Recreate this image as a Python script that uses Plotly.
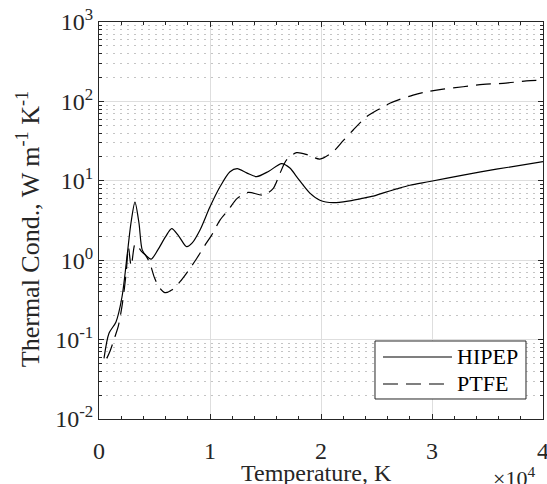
import plotly.graph_objects as go

# ---- data ----
hipep_T = [450, 900, 1530, 2070, 2520, 2880, 3240, 3600, 3900, 4300, 4700, 5300, 6000,
           6550, 7200, 7900, 8400, 9100, 10000, 10900, 11800, 12450, 13300, 14200, 15300,
           16450, 17200, 17800, 19000, 19900, 21100, 22600, 23600, 24700, 25700, 26800,
           28000, 29800, 32800, 35800, 40000]
hipep_k = [0.058, 0.12, 0.167, 0.344, 1.1, 2.94, 5.4, 2.94, 1.34, 1.12, 1.03, 1.35, 1.98,
           2.5, 2.0, 1.48, 1.65, 2.4, 4.7, 8.4, 13.0, 14.2, 12.6, 11.3, 13.2,
           16.5, 14.5, 11.3, 7.0, 5.7, 5.3, 5.6, 5.95, 6.4, 7.1, 7.9,
           8.8, 9.8, 11.8, 14.0, 17.4]

ptfe_T = [700, 1000, 1440, 1740, 2100, 2450, 2650, 2900, 3250, 3500, 3800, 4200, 4600,
          5000, 5400, 5950, 6550, 7300, 8200, 8800, 9550, 10150, 10900, 11650, 12450,
          13450, 14800, 15700, 16300, 16900, 17800, 18850, 19900, 21100, 22000, 22900,
          24100, 25300, 26200, 27100, 28300, 29500, 31000, 32800, 34600, 36400, 38500, 40000]
ptfe_k = [0.058, 0.072, 0.109, 0.148, 0.28, 0.7, 1.45, 0.85, 1.6, 1.5, 1.3, 1.15, 0.9,
          0.6, 0.46, 0.39, 0.42, 0.536, 0.79, 1.05, 1.55, 2.07, 3.2, 4.29, 6.0,
          7.16, 6.6, 8.05, 12.4, 18.3, 22.6, 21.1, 18.8, 23.3, 32.0, 43.6,
          64.0, 81.0, 94.6, 106.0, 120.0, 132.0, 143.0, 153.0, 164.0, 169.0, 181.0, 186.0]

series_names = ["HIPEP", "PTFE"]

x_tickvals = [0, 10000, 20000, 30000, 40000]
x_ticktext = ["0", "1", "2", "3", "4"]
y_tickvals = [0.01, 0.1, 1, 10, 100, 1000]
y_ticktext = ["10<sup>-2</sup>", "10<sup>-1</sup>", "10<sup>0</sup>",
              "10<sup>1</sup>", "10<sup>2</sup>", "10<sup>3</sup>"]

FONT = "Liberation Serif, Times New Roman, serif"
AX = "#262626"
DASH = "15px,8px"

fig = go.Figure()
fig.add_trace(go.Scatter(x=hipep_T, y=hipep_k, mode="lines", name=series_names[0],
                         showlegend=False,
                         line=dict(color="black", width=1.2, shape="spline", smoothing=0.8)))
fig.add_trace(go.Scatter(x=ptfe_T, y=ptfe_k, mode="lines", name=series_names[1],
                         showlegend=False,
                         line=dict(color="black", width=1.2, dash=DASH,
                                   shape="spline", smoothing=0.8)))

y_minor = [m * 10.0 ** e for e in range(-2, 3) for m in range(2, 10)]

fig.update_layout(
    width=547, height=484,
    margin=dict(l=99, r=4, t=22, b=65),
    paper_bgcolor="white", plot_bgcolor="white",
    font=dict(family=FONT, size=24, color=AX),
    showlegend=False,
)
fig.update_xaxes(
    range=[0, 40000], tickmode="array", tickvals=x_tickvals, ticktext=x_ticktext,
    ticks="inside", ticklen=5, tickcolor=AX, showline=True, linecolor=AX, linewidth=1,
    mirror="allticks", showgrid=True, gridcolor="#dedede", gridwidth=1, zeroline=False,
    ticklabelstandoff=10, ticklabeloverflow="allow", automargin=False,
    minor=dict(tickmode="linear", tick0=0, dtick=2000, ticks="inside", ticklen=3,
               tickcolor=AX, showgrid=False),
    tickfont=dict(family=FONT, size=24, color=AX),
)
fig.update_yaxes(
    type="log", range=[-2, 3], tickmode="array", tickvals=y_tickvals, ticktext=y_ticktext,
    ticks="inside", ticklen=5, tickcolor=AX, showline=True, linecolor=AX, linewidth=1,
    mirror="allticks", showgrid=True, gridcolor="#dedede", gridwidth=1, zeroline=False,
    ticklabeloverflow="allow", automargin=False,
    minor=dict(tickmode="array", tickvals=y_minor, ticks="inside", ticklen=3,
               tickcolor=AX, showgrid=True, gridcolor="#c4c4c4", griddash="2px,5px"),
    tickfont=dict(family=FONT, size=24, color=AX),
)

# legend box (paper coordinates)
lx0, lx1, ly0, ly1 = 0.6216, 0.9617, 0.0504, 0.1965
fig.add_shape(type="rect", xref="paper", yref="paper", x0=lx0, x1=lx1, y0=ly0, y1=ly1,
              line=dict(color=AX, width=1), fillcolor="white", layer="above")
row_y = [0.1562, 0.0882]
dashes = ["solid", DASH]
for name, yy, dsh in zip(series_names, row_y, dashes):
    fig.add_shape(type="line", xref="paper", yref="paper", x0=0.6396, x1=0.7950,
                  y0=yy, y1=yy, line=dict(color="black", width=1.2, dash=dsh),
                  layer="above")
    fig.add_annotation(text=name, xref="paper", yref="paper", x=0.8018, y=yy,
                       xanchor="left", yanchor="middle", showarrow=False,
                       font=dict(family=FONT, size=22, color="black"))

fig.add_annotation(text="Thermal Cond., W m<sup>-1</sup> K<sup>-1</sup>",
                   xref="paper", yref="paper", x=-0.16, y=0.478, textangle=-90,
                   xanchor="center", yanchor="middle", showarrow=False,
                   font=dict(family=FONT, size=26, color=AX))
fig.add_annotation(text="Temperature, K", xref="paper", yref="paper",
                   x=0.489, y=-0.135, xanchor="center", yanchor="middle",
                   showarrow=False, font=dict(family=FONT, size=24, color=AX))
fig.add_annotation(text="\u00d710<sup>4</sup>", xref="paper", yref="paper",
                   x=0.935, y=-0.147, xanchor="center", yanchor="middle",
                   showarrow=False, font=dict(family=FONT, size=22, color=AX))

fig.write_html("out.html",
               config={"displayModeBar": False},
               post_script="document.body.style.margin='0px';"
                           "document.body.style.overflow='hidden';")
